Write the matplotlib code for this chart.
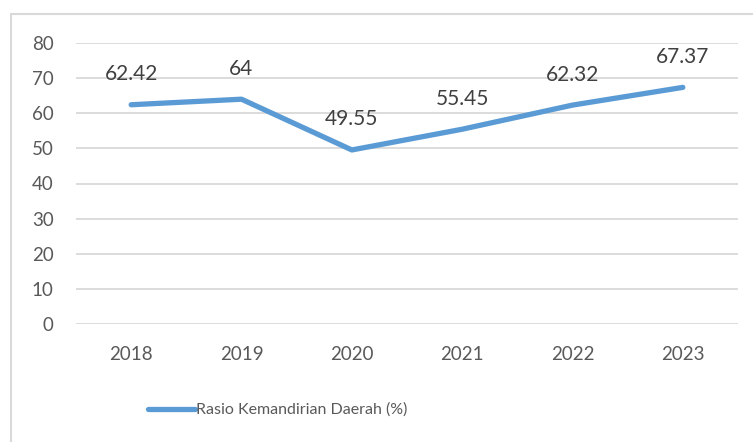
import matplotlib.pyplot as plt
from matplotlib.patches import Rectangle

years = ['2018', '2019', '2020', '2021', '2022', '2023']
rasio = [62.42, 64, 49.55, 55.45, 62.32, 67.37]
labels = ['62.42', '64', '49.55', '55.45', '62.32', '67.37']
yticks = [0, 10, 20, 30, 40, 50, 60, 70, 80]

plt.rcParams['font.family'] = ['Lato', 'DejaVu Sans']
txt = '#595959'
blue = '#5B9BD5'

fig = plt.figure(figsize=(7.53, 4.42), dpi=100)
ax = fig.add_axes([76/753, 1-324/442, (738-76)/753, (324-43)/442])

x = list(range(len(years)))
ax.plot(x, rasio, color=blue, lw=3.8, solid_capstyle='round', solid_joinstyle='round',
        label='Rasio Kemandirian Daerah (%)')
for xi, v, s in zip(x, rasio, labels):
    ax.annotate(s, (xi, v), xytext=(0, 22), textcoords='offset points',
                ha='center', va='center', fontsize=15, color='#404040')

ax.set_xlim(-0.5, len(years) - 0.5)
ax.set_ylim(0, 80)
ax.set_yticks(yticks)
ax.set_xticks(x)
ax.set_xticklabels(years)
ax.grid(axis='y', color='#D9D9D9', lw=1.3)
ax.set_axisbelow(True)
for sp in ax.spines.values():
    sp.set_visible(False)
ax.tick_params(axis='both', length=0, labelsize=13.5, colors=txt)
ax.tick_params(axis='y', pad=16)
ax.tick_params(axis='x', pad=16)

# legend sits left of centre in the reference
leg = fig.legend(loc='center', bbox_to_anchor=(278/753, 1-410/442), frameon=False,
                 fontsize=11.5, handlelength=2.9, handletextpad=0.1)
for t in leg.get_texts():
    t.set_color(txt)

fig.patches.append(Rectangle((11/753, -0.1), 1.0, 1-14/442+0.1, transform=fig.transFigure,
                             fill=False, edgecolor='#D9D9D9', lw=1.5))

fig.savefig('out.png', dpi=100)
